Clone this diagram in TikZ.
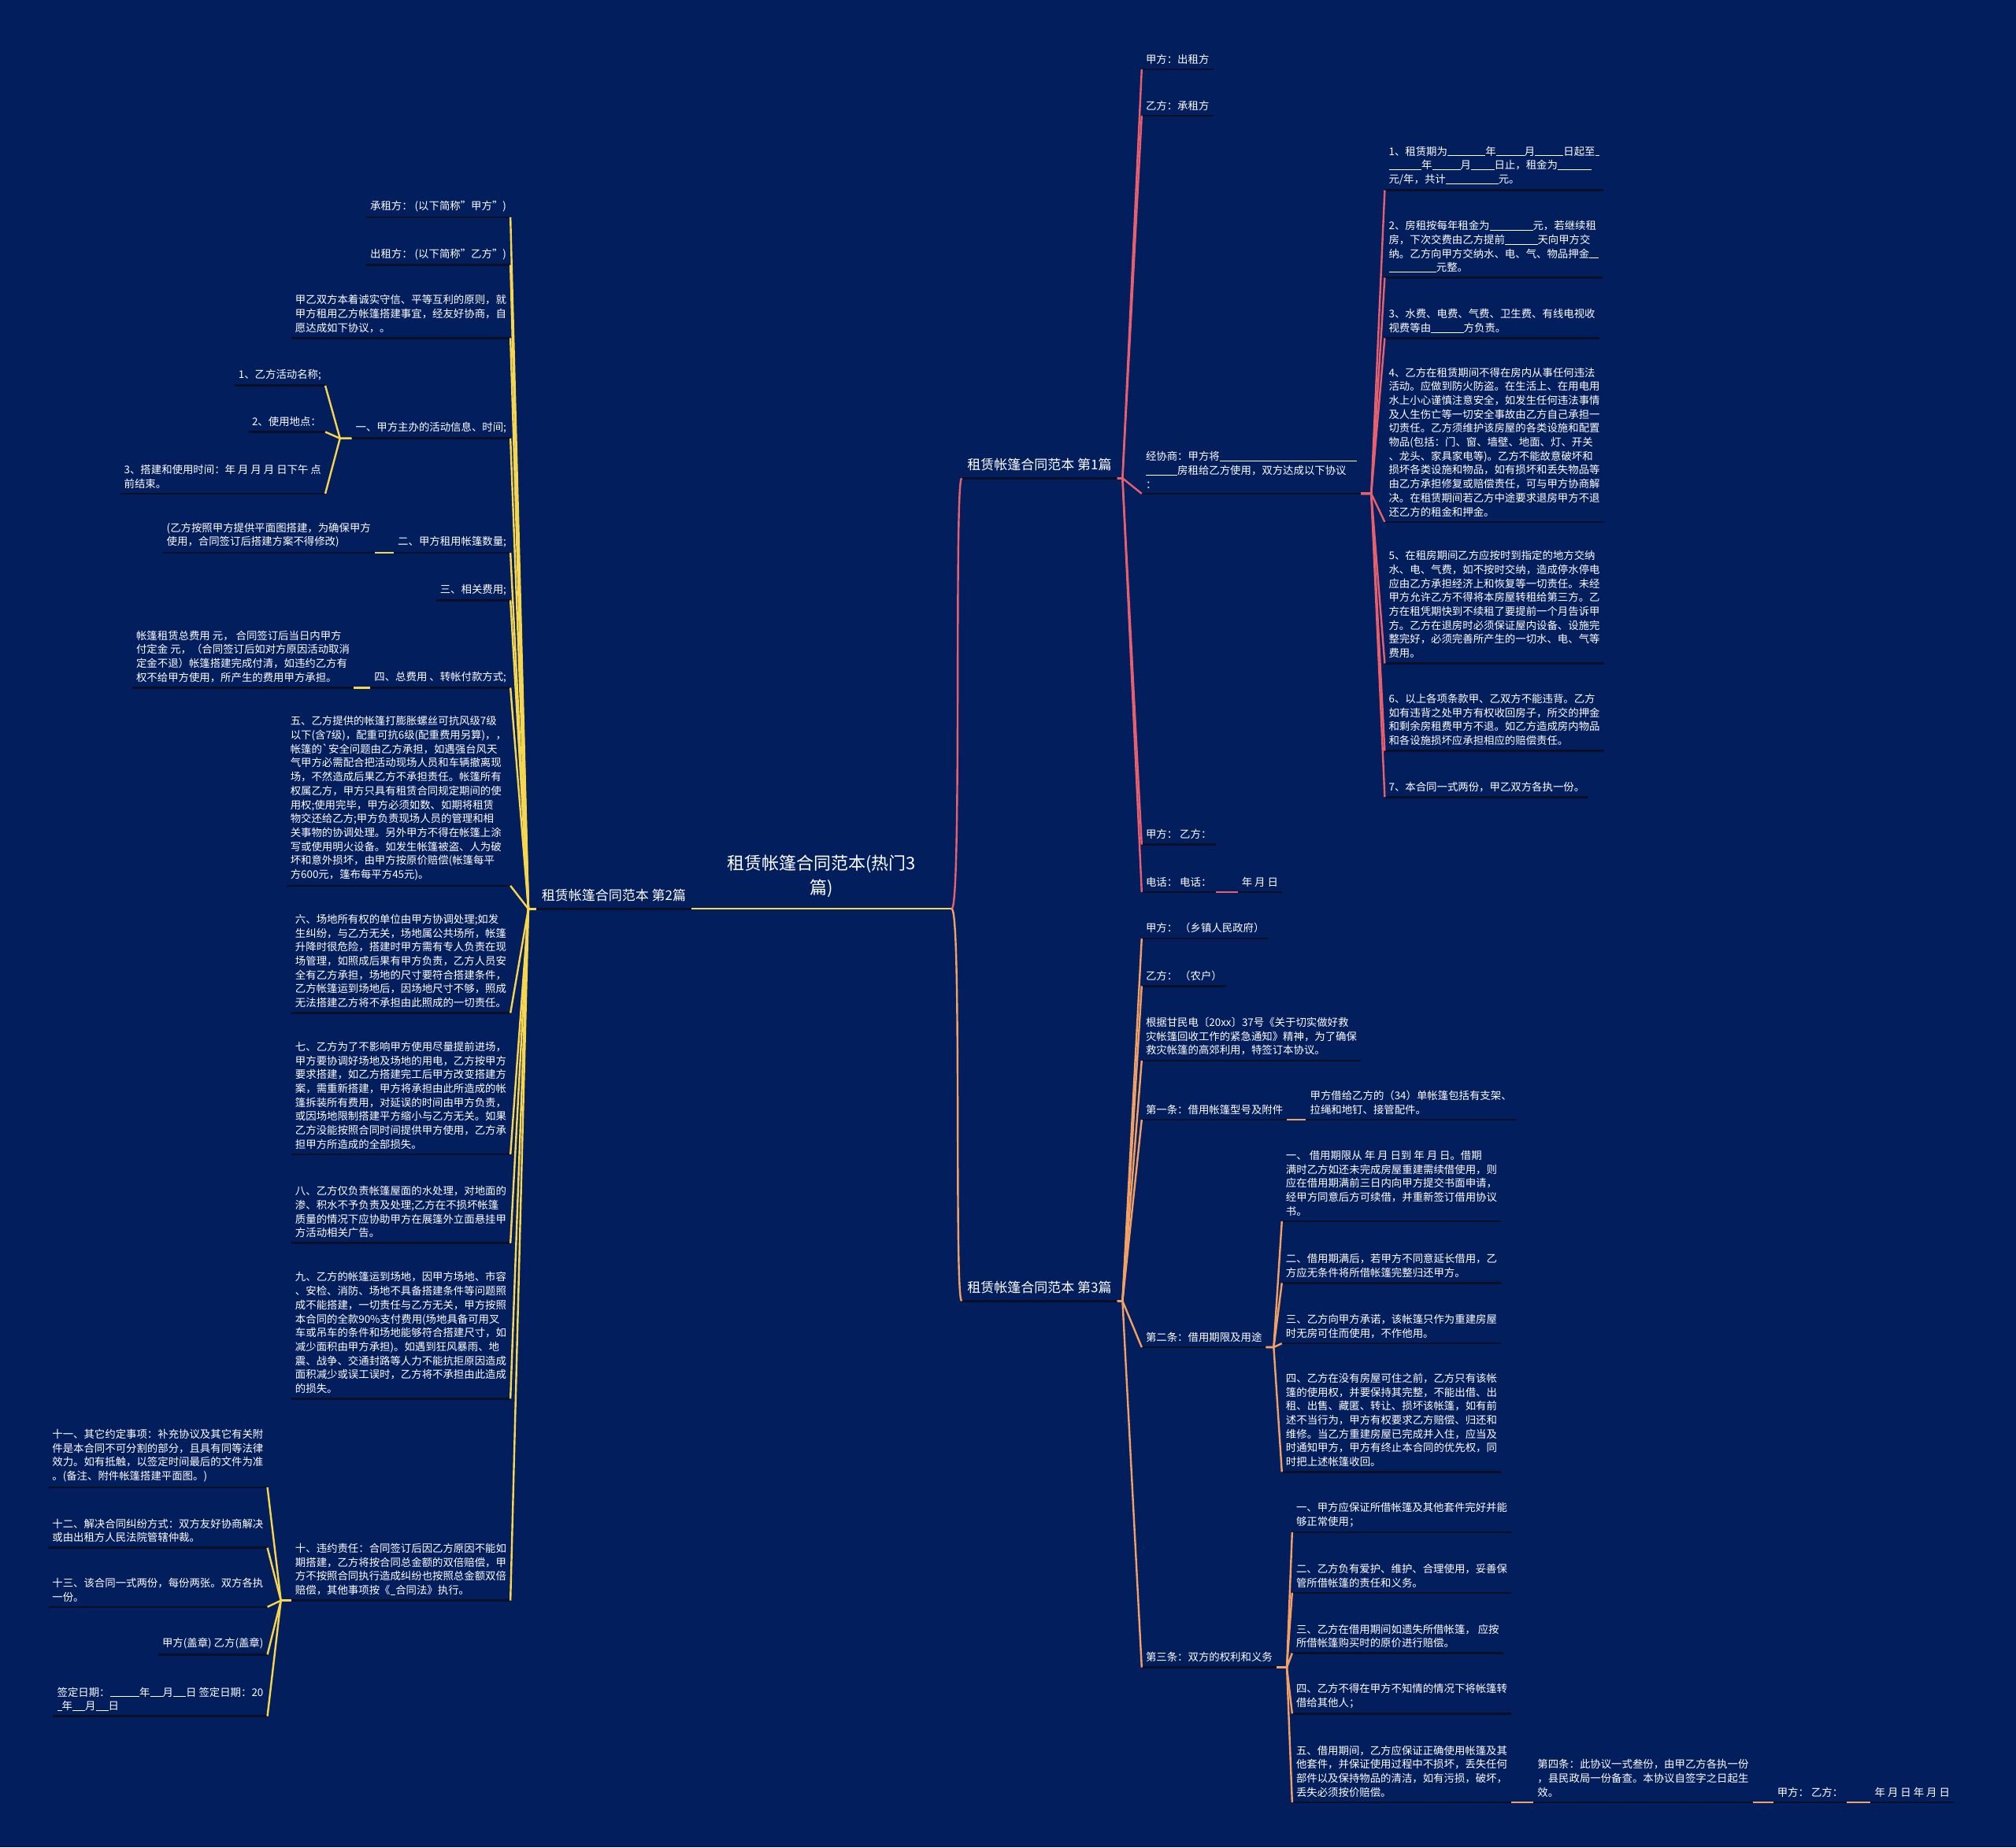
\documentclass[tikz,border=0pt]{standalone}
\usepackage{fontspec}
\setmainfont{Noto Sans CJK SC}
\usetikzlibrary{positioning}
\definecolor{bgc}{HTML}{031E5D}
\definecolor{ulc}{HTML}{0A0E26}
\definecolor{cyel}{HTML}{F7D64F}
\definecolor{cpnk}{HTML}{E8606E}
\definecolor{corg}{HTML}{F2A064}
\newcommand\blk[1]{\rule[-1.2pt]{#1}{0.9pt}}

\begin{document}
\begin{tikzpicture}[x=1.6327pt, y=-1.6327pt,
    uln/.style={draw=ulc, line width=2.6pt},
    txt/.style={text=white, font=\fontsize{13.4}{17.7}\selectfont, align=left, inner xsep=5pt, inner ysep=6.5pt,
        append after command={(\tikzlastnode.south west) edge[uln] (\tikzlastnode.south east)}},
    lf/.style={txt, anchor=south east},
    rt/.style={txt, anchor=south west},
    brn/.style={txt, font=\fontsize{17}{22}\selectfont, inner xsep=7pt, inner ysep=9pt},
    topic/.style={text=white, font=\fontsize{22}{31}\selectfont, align=center, minimum width=330pt, inner ysep=14pt, anchor=south},
    cy/.style={draw=cyel, line width=2.4pt},
    cp/.style={draw=cpnk, line width=2.4pt},
    co/.style={draw=corg, line width=2.4pt}
]
\fill[bgc] (0,0) rectangle (1568,1437);
\useasboundingbox (0,0) rectangle (1568,1437);

\node[topic] (root) at (639,707) {租赁帐篷合同范本(热门3\\篇)};
\node[brn, anchor=south east] (b2) at (538,707) {租赁帐篷合同范本 第2篇};
\node[brn, anchor=south west] (b1) at (748,372) {租赁帐篷合同范本 第1篇};
\node[brn, anchor=south west] (b3) at (748,1012) {租赁帐篷合同范本 第3篇};

\node[lf] (a1) at (397,169) {承租方： (以下简称"甲方")};
\node[lf] (a2) at (397,206) {出租方： (以下简称"乙方")};
\node[lf] (a3) at (397,263) {甲乙双方本着诚实守信、平等互利的原则，就\\甲方租用乙方帐篷搭建事宜，经友好协商，自\\愿达成如下协议，。};
\node[lf] (a4) at (397,341) {一、甲方主办的活动信息、时间;};
\node[lf] (a41) at (253,300) {1、乙方活动名称;};
\node[lf] (a42) at (253,336) {2、使用地点：};
\node[lf] (a43) at (253,384) {3、搭建和使用时间：年 月 月 月 日下午 点\\前结束。};
\node[lf] (a5) at (397,430) {二、甲方租用帐篷数量;};
\node[lf, left=24pt of a5.south west, anchor=south east] (a51) {(乙方按照甲方提供平面图搭建，为确保甲方\\使用，合同签订后搭建方案不得修改)};
\node[lf] (a6) at (397,467) {三、相关费用;};
\node[lf] (a7) at (397,535) {四、总费用 、转帐付款方式;};
\node[lf, left=21pt of a7.south west, anchor=south east] (a71) {帐篷租赁总费用 元， 合同签订后当日内甲方\\付定金 元，（合同签订后如对方原因活动取消\\定金不退）帐篷搭建完成付清，如违约乙方有\\权不给甲方使用，所产生的费用甲方承担。};
\node[lf] (a8) at (397,689) {五、乙方提供的帐篷打膨胀螺丝可抗风级7级\\以下(含7级)，配重可抗6级(配重费用另算)，，\\帐篷的\textasciigrave 安全问题由乙方承担，如遇强台风天\\气甲方必需配合把活动现场人员和车辆撤离现\\场，不然造成后果乙方不承担责任。帐篷所有\\权属乙方，甲方只具有租赁合同规定期间的使\\用权;使用完毕，甲方必须如数、如期将租赁\\物交还给乙方;甲方负责现场人员的管理和相\\关事物的协调处理。另外甲方不得在帐篷上涂\\写或使用明火设备。如发生帐篷被盗、人为破\\坏和意外损坏，由甲方按原价赔偿(帐篷每平\\方600元，篷布每平方45元)。};
\node[lf] (a9) at (397,788) {六、场地所有权的单位由甲方协调处理;如发\\生纠纷，与乙方无关，场地属公共场所，帐篷\\升降时很危险，搭建时甲方需有专人负责在现\\场管理，如照成后果有甲方负责，乙方人员安\\全有乙方承担，场地的尺寸要符合搭建条件，\\乙方帐篷运到场地后，因场地尺寸不够，照成\\无法搭建乙方将不承担由此照成的一切责任。};
\node[lf] (a10) at (397,898) {七、乙方为了不影响甲方使用尽量提前进场，\\甲方要协调好场地及场地的用电，乙方按甲方\\要求搭建，如乙方搭建完工后甲方改变搭建方\\案，需重新搭建，甲方将承担由此所造成的帐\\篷拆装所有费用，对延误的时间由甲方负责，\\或因场地限制搭建平方缩小与乙方无关。如果\\乙方没能按照合同时间提供甲方使用，乙方承\\担甲方所造成的全部损失。};
\node[lf] (a11) at (397,967) {八、乙方仅负责帐篷屋面的水处理，对地面的\\渗、积水不予负责及处理;乙方在不损坏帐篷\\质量的情况下应协助甲方在展篷外立面悬挂甲\\方活动相关广告。};
\node[lf] (a12) at (397,1088) {九、乙方的帐篷运到场地，因甲方场地、市容\\、安检、消防、场地不具备搭建条件等问题照\\成不能搭建，一切责任与乙方无关，甲方按照\\本合同的全款90\%支付费用(场地具备可用叉\\车或吊车的条件和场地能够符合搭建尺寸，如\\减少面积由甲方承担)。如遇到狂风暴雨、地\\震、战争、交通封路等人力不能抗拒原因造成\\面积减少或误工误时，乙方将不承担由此造成\\的损失。};
\node[lf] (a13) at (397,1245) {十、违约责任：合同签订后因乙方原因不能如\\期搭建，乙方将按合同总金额的双倍赔偿，甲\\方不按照合同执行造成纠纷也按照总金额双倍\\赔偿，其他事项按《\blk{0.5em}合同法》执行。};
\node[lf] (a131) at (208,1157) {十一、其它约定事项：补充协议及其它有关附\\件是本合同不可分割的部分，且具有同等法律\\效力。如有抵触，以签定时间最后的文件为准\\。(备注、附件帐篷搭建平面图。)};
\node[lf] (a132) at (208,1204) {十二、解决合同纠纷方式：双方友好协商解决\\或由出租方人民法院管辖仲裁。};
\node[lf] (a133) at (208,1250) {十三、该合同一式两份，每份两张。双方各执\\一份。};
\node[lf] (a134) at (208,1287) {甲方(盖章) 乙方(盖章)};
\node[lf] (a135) at (208,1335) {签定日期：\blk{2.8em}年\blk{1.2em}月\blk{1.2em}日 签定日期：20\\\blk{0.45em}年\blk{1.2em}月\blk{1.2em}日};

\node[rt] (c1) at (888,54) {甲方：出租方};
\node[rt] (c2) at (888,90) {乙方：承租方};
\node[rt] (c3) at (888,384) {经协商：甲方将\blk{13em}\\\blk{3em}房租给乙方使用，双方达成以下协议\\：};
\node[rt] (c31) at (1077,148) {1、租赁期为\blk{3.6em}年\blk{2.7em}月\blk{2.7em}日起至\blk{0.4em}\\\blk{3.1em}年\blk{2.7em}月\blk{2.2em}日止，租金为\blk{3.2em}\\元/年，共计\blk{5em}元。};
\node[rt] (c32) at (1077,216) {2、房租按每年租金为\blk{4.1em}元，若继续租\\房，下次交费由乙方提前\blk{3.1em}天向甲方交\\纳。乙方向甲方交纳水、电、气、物品押金\blk{0.9em}\\\blk{4.5em}元整。};
\node[rt] (c33) at (1077,263) {3、水费、电费、气费、卫生费、有线电视收\\视费等由\blk{3.1em}方负责。};
\node[rt] (c34) at (1077,406) {4、乙方在租赁期间不得在房内从事任何违法\\活动。应做到防火防盗。在生活上、在用电用\\水上小心谨慎注意安全，如发生任何违法事情\\及人生伤亡等一切安全事故由乙方自己承担一\\切责任。乙方须维护该房屋的各类设施和配置\\物品(包括：门、窗、墙壁、地面、灯、开关\\、龙头、家具家电等)。乙方不能故意破坏和\\损坏各类设施和物品，如有损坏和丢失物品等\\由乙方承担修复或赔偿责任，可与甲方协商解\\决。在租赁期间若乙方中途要求退房甲方不退\\还乙方的租金和押金。};
\node[rt] (c35) at (1077,516) {5、在租房期间乙方应按时到指定的地方交纳\\水、电、气费，如不按时交纳，造成停水停电\\应由乙方承担经济上和恢复等一切责任。未经\\甲方允许乙方不得将本房屋转租给第三方。乙\\方在租凭期快到不续租了要提前一个月告诉甲\\方。乙方在退房时必须保证屋内设备、设施完\\整完好，必须完善所产生的一切水、电、气等\\费用。};
\node[rt] (c36) at (1077,584) {6、以上各项条款甲、乙双方不能违背。乙方\\如有违背之处甲方有权收回房子，所交的押金\\和剩余房租费甲方不退。如乙方造成房内物品\\和各设施损坏应承担相应的赔偿责任。};
\node[rt] (c37) at (1077,620) {7、本合同一式两份，甲乙双方各执一份。};
\node[rt] (c4) at (888,657) {甲方： 乙方：};
\node[rt] (c5) at (888,694) {电话： 电话：};
\node[rt, right=28pt of c5.south east, anchor=south west] (c51) {年 月 日};

\node[rt] (e1) at (888,730) {甲方： （乡镇人民政府）};
\node[rt] (e2) at (888,767) {乙方： （农户）};
\node[rt] (e3) at (888,825) {根据甘民电〔20xx〕37号《关于切实做好救\\灾帐篷回收工作的紧急通知》精神，为了确保\\救灾帐篷的高郊利用，特签订本协议。};
\node[rt] (e4) at (888,871) {第一条：借用帐篷型号及附件};
\node[rt, right=24pt of e4.south east, anchor=south west] (e41) {甲方借给乙方的（34）单帐篷包括有支架、\\拉绳和地钉、接管配件。};
\node[rt] (e5) at (888,1048) {第二条：借用期限及用途};
\node[rt] (e51) at (997,950) {一、 借用期限从 年 月 日到 年 月 日。借期\\满时乙方如还未完成房屋重建需续借使用，则\\应在借用期满前三日内向甲方提交书面申请，\\经甲方同意后方可续借，并重新签订借用协议\\书。};
\node[rt] (e52) at (997,998) {二、借用期满后，若甲方不同意延长借用，乙\\方应无条件将所借帐篷完整归还甲方。};
\node[rt] (e53) at (997,1045) {三、乙方向甲方承诺，该帐篷只作为重建房屋\\时无房可住而使用，不作他用。};
\node[rt] (e54) at (997,1145) {四、乙方在没有房屋可住之前，乙方只有该帐\\篷的使用权，并要保持其完整，不能出借、出\\租、出售、藏匿、转让、损坏该帐篷，如有前\\述不当行为，甲方有权要求乙方赔偿、归还和\\维修。当乙方重建房屋已完成并入住，应当及\\时通知甲方，甲方有终止本合同的优先权，同\\时把上述帐篷收回。};
\node[rt] (e6) at (888,1297) {第三条：双方的权利和义务};
\node[rt] (e61) at (1005,1192) {一、甲方应保证所借帐篷及其他套件完好并能\\够正常使用；};
\node[rt] (e62) at (1005,1239) {二、乙方负有爱护、维护、合理使用，妥善保\\管所借帐篷的责任和义务。};
\node[rt] (e63) at (1005,1286) {三、乙方在借用期间如遗失所借帐篷， 应按\\所借帐篷购买时的原价进行赔偿。};
\node[rt] (e64) at (1005,1333) {四、乙方不得在甲方不知情的情况下将帐篷转\\借给其他人；};
\node[rt] (e65) at (1005,1402) {五、借用期间，乙方应保证正确使用帐篷及其\\他套件，并保证使用过程中不损坏，丢失任何\\部件以及保持物品的清洁，如有污损，破坏，\\丢失必须按价赔偿。};
\node[rt, right=28pt of e65.south east, anchor=south west] (e651) {第四条：此协议一式叁份，由甲乙方各执一份\\，县民政局一份备查。本协议自签字之日起生\\效。};
\node[rt, right=26pt of e651.south east, anchor=south west] (e652) {甲方： 乙方：};
\node[rt, right=30pt of e652.south east, anchor=south west] (e653) {年 月 日 年 月 日};

\draw[cy] (root.south east) -- (b2.south east);
\draw[cp] (root.south east) .. controls +(8,0) and +(-6,0) .. (b1.south west);
\draw[co] (root.south east) .. controls +(8,0) and +(-6,0) .. (b3.south west);

\foreach \c in {a1,a2,a3,a4,a5,a6,a7,a8,a9,a10,a11,a12,a13}
    \draw[cy] (b2.south west) -- ++(-6,0) -- (\c.south east);
\foreach \c in {a41,a42,a43}
    \draw[cy] (a4.south west) -- ++(-9,0) -- (\c.south east);
\foreach \c in {a131,a132,a133,a134,a135}
    \draw[cy] (a13.south west) -- ++(-8,0) -- (\c.south east);
\draw[cy] (a5.south west) -- (a51.south east);
\draw[cy] (a7.south west) -- (a71.south east);

\foreach \c in {c1,c2,c3,c4,c5}
    \draw[cp] (b1.south east) -- ++(4,0) -- (\c.south west);
\foreach \c in {c31,c32,c33,c34,c35,c36,c37}
    \draw[cp] (c3.south east) -- ++(8,0) -- (\c.south west);
\draw[cp] (c5.south east) -- (c51.south west);

\foreach \c in {e1,e2,e3,e4,e5,e6}
    \draw[co] (b3.south east) -- ++(4,0) -- (\c.south west);
\foreach \c in {e51,e52,e53,e54}
    \draw[co] (e5.south east) -- ++(6,0) -- (\c.south west);
\foreach \c in {e61,e62,e63,e64,e65}
    \draw[co] (e6.south east) -- ++(8,0) -- (\c.south west);
\draw[co] (e4.south east) -- (e41.south west);
\draw[co] (e65.south east) -- (e651.south west);
\draw[co] (e651.south east) -- (e652.south west);
\draw[co] (e652.south east) -- (e653.south west);
\end{tikzpicture}
\end{document}
